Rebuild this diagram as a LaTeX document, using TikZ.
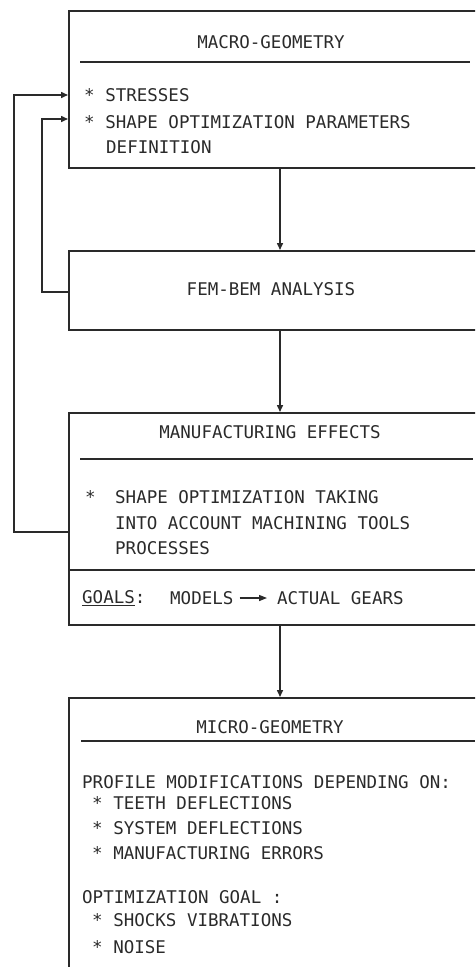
\documentclass[tikz,border=0pt]{standalone}
\usepackage{fontspec}
\newfontfamily\plotfont{DejaVu Sans Mono}
\usetikzlibrary{arrows.meta}
\definecolor{ink}{HTML}{2A2A2A}
\begin{document}
\begin{tikzpicture}[x=1pt,y=-1pt,
  box/.style={draw=ink, line width=1.6pt, rectangle, inner sep=0pt, anchor=north west},
  txt/.style={text=ink, font=\plotfont\fontsize{17.5}{20}\selectfont, inner sep=0pt, anchor=west},
  ttl/.style={txt, anchor=center},
  sep/.style={draw=ink, line width=1.4pt},
  arr/.style={draw=ink, line width=1.5pt, -{Triangle[length=7pt,width=6pt]}}]
\useasboundingbox (0,0) rectangle (475,967);
\clip (0,0) rectangle (475,967);
% boxes
\node[box, minimum width=452pt, minimum height=157pt] (macro) at (68,10) {};
\node[box, minimum width=452pt, minimum height=79pt] (fem) at (68,250) {};
\node[box, minimum width=452pt, minimum height=212pt] (mfg) at (68,412) {};
\node[box, minimum width=452pt, minimum height=320pt] (micro) at (68,697) {};
% macro box
\node[ttl] (t1) at (271,42) {MACRO-GEOMETRY};
\draw[sep] (80,62) -- (470,62);
\node[txt] (m1) at (84,95) {* STRESSES};
\node[txt] (m2) at (84,122) {* SHAPE OPTIMIZATION PARAMETERS};
\node[txt] (m3) at (106,147) {DEFINITION};
% fem box
\node[ttl] (t2) at (271,289) {FEM-BEM ANALYSIS};
% manufacturing box
\node[ttl] (t3) at (270,432) {MANUFACTURING EFFECTS};
\draw[sep] (80,459) -- (473,459);
\node[txt] (f0) at (85,497) {*};
\node[txt] (f1) at (115,497) {SHAPE OPTIMIZATION TAKING};
\node[txt] (f2) at (115,523) {INTO ACCOUNT MACHINING TOOLS};
\node[txt] (f3) at (115,548) {PROCESSES};
\draw[sep] (68,570) -- (475,570);
\node[txt] (g1) at (82,598) {\underline{GOALS}:};
\node[txt] (g2) at (170,598) {MODELS};
\node[txt] (g4) at (277,598) {ACTUAL GEARS};
\draw[draw=ink, line width=1.4pt, -{Triangle[length=8pt,width=6pt]}, shorten <=6pt, shorten >=10pt] (g2.east) -- (g4.west);
% micro box
\node[ttl] (t4) at (270,727) {MICRO-GEOMETRY};
\draw[sep] (81,741) -- (475,741);
\node[txt] (p1) at (82,782) {PROFILE MODIFICATIONS DEPENDING ON:};
\node[txt] (p2) at (92,803) {* TEETH DEFLECTIONS};
\node[txt] (p3) at (92,828) {* SYSTEM DEFLECTIONS};
\node[txt] (p4) at (92,853) {* MANUFACTURING ERRORS};
\node[txt] (p5) at (82,897) {OPTIMIZATION GOAL :};
\node[txt] (p6) at (92,920) {* SHOCKS VIBRATIONS};
\node[txt] (p7) at (92,947) {* NOISE};
% vertical flow
\coordinate (ax) at (280,0);
\draw[arr] (macro.south -| ax) -- (fem.north -| ax);
\draw[arr] (fem.south -| ax) -- (mfg.north -| ax);
\draw[arr] (mfg.south -| ax) -- (micro.north -| ax);
% feedback loops
\coordinate (o1) at (14,532);
\coordinate (o2) at (14,95);
\coordinate (i1) at (42,292);
\coordinate (i2) at (42,119);
\draw[arr] (mfg.west |- o1) -- (o1) -- (o2) -- (macro.west |- o2);
\draw[arr] (fem.west |- i1) -- (i1) -- (i2) -- (macro.west |- i2);
\end{tikzpicture}
\end{document}
